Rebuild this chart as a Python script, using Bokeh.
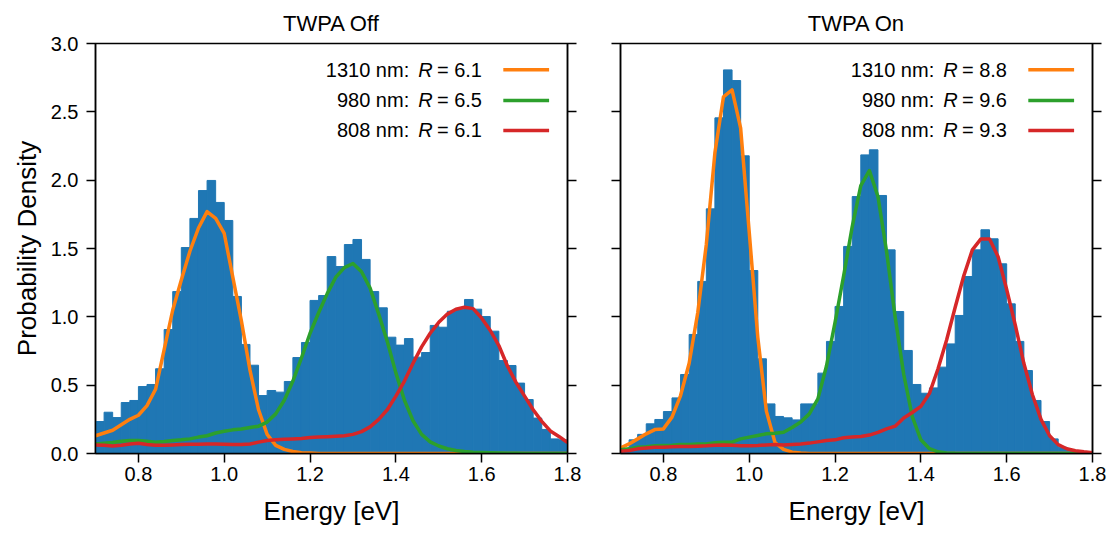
import numpy as np
from bokeh.plotting import figure
from bokeh.layouts import row
from bokeh.models import LinearAxis, Label, Range1d, FixedTicker, CustomJSTickFormatter
from bokeh.embed import file_html
from bokeh.resources import INLINE

# ---------------- data ----------------
BIN_START, BIN_WIDTH, N_BINS = 0.70, 0.02, 55
bin_edges = np.round(BIN_START + BIN_WIDTH * np.arange(N_BINS + 1), 3)
energy = np.round(0.70 + 0.02 * np.arange(56), 2)  # curve sample grid, eV

hist_off = [0.234, 0.302, 0.263, 0.373, 0.388, 0.49, 0.505, 0.62, 0.907, 1.185,
            1.507, 1.72, 1.924, 1.998, 1.837, 1.705, 1.149, 0.798, 0.646, 0.424,
            0.461, 0.449, 0.527, 0.702, 0.812, 1.12, 1.156, 1.441, 1.368, 1.529,
            1.566, 1.42, 1.185, 1.066, 0.851, 0.793, 0.841, 0.705, 0.739, 0.937,
            0.924, 1.041, 1.056, 1.127, 1.056, 1.002, 0.895, 0.68, 0.644, 0.515,
            0.395, 0.259, 0.176, 0.107, 0.10]
hist_on = [0.027, 0.10, 0.14, 0.217, 0.249, 0.307, 0.407, 0.578, 0.871, 1.259,
           1.79, 2.456, 2.807, 2.729, 2.178, 1.339, 0.693, 0.363, 0.271, 0.261,
           0.246, 0.363, 0.363, 0.588, 0.82, 1.076, 1.515, 1.88, 2.185, 2.222,
           1.888, 1.49, 1.039, 0.754, 0.505, 0.441, 0.48, 0.632, 0.802, 1.01,
           1.295, 1.49, 1.637, 1.571, 1.388, 1.095, 0.82, 0.607, 0.388, 0.234,
           0.107, 0.046, 0.022, 0.008, 0.003]

off_1310 = [0.13, 0.15, 0.17, 0.21, 0.25, 0.28, 0.35, 0.47, 0.76, 1.05,
            1.27, 1.48, 1.65, 1.77, 1.72, 1.61, 1.29, 0.97, 0.61, 0.32,
            0.14, 0.06, 0.03, 0.015, 0.006, 0.003] + [0.0] * 30
off_980 = [0.07, 0.075, 0.08, 0.09, 0.095, 0.095, 0.09, 0.083, 0.088, 0.095,
           0.10, 0.107, 0.12, 0.13, 0.15, 0.163, 0.173, 0.18, 0.19, 0.20,
           0.23, 0.29, 0.39, 0.53, 0.70, 0.88, 1.03, 1.17, 1.29, 1.36,
           1.39, 1.33, 1.21, 1.02, 0.82, 0.59, 0.39, 0.24, 0.14, 0.085,
           0.055, 0.035, 0.022, 0.015, 0.01, 0.007, 0.005, 0.003, 0.002, 0.001,
           0.0, 0.0, 0.0, 0.0, 0.0, 0.0]
off_808 = [0.063, 0.06, 0.055, 0.06, 0.07, 0.075, 0.066, 0.06, 0.06, 0.063,
           0.066, 0.068, 0.068, 0.07, 0.07, 0.068, 0.066, 0.066, 0.07, 0.083,
           0.095, 0.10, 0.105, 0.107, 0.11, 0.117, 0.12, 0.123, 0.126, 0.13,
           0.14, 0.16, 0.195, 0.25, 0.32, 0.42, 0.53, 0.66, 0.78, 0.88,
           0.96, 1.02, 1.055, 1.07, 1.06, 0.99, 0.90, 0.79, 0.64, 0.52,
           0.42, 0.32, 0.235, 0.165, 0.125, 0.08]

on_1310 = [0.04, 0.07, 0.107, 0.144, 0.175, 0.18, 0.266, 0.424, 0.66, 1.03,
           1.53, 2.20, 2.61, 2.66, 2.38, 1.62, 0.85, 0.31, 0.08, 0.03,
           0.01, 0.003] + [0.0] * 34
on_980 = [0.027, 0.034, 0.046, 0.05, 0.056, 0.058, 0.06, 0.066, 0.066, 0.07,
          0.07, 0.078, 0.083, 0.083, 0.107, 0.12, 0.132, 0.144, 0.149, 0.156,
          0.19, 0.23, 0.29, 0.40, 0.64, 0.96, 1.30, 1.66, 1.96, 2.07,
          1.88, 1.48, 1.00, 0.58, 0.27, 0.10, 0.035, 0.012, 0.004, 0.001] + [0.0] * 16
on_808 = [0.017, 0.022, 0.034, 0.041, 0.046, 0.046, 0.049, 0.051, 0.051, 0.053,
          0.056, 0.061, 0.063, 0.061, 0.056, 0.056, 0.058, 0.063, 0.066, 0.063,
          0.066, 0.07, 0.076, 0.085, 0.095, 0.10, 0.115, 0.12, 0.125, 0.135,
          0.155, 0.18, 0.20, 0.26, 0.30, 0.345, 0.44, 0.62, 0.83, 1.07,
          1.30, 1.49, 1.57, 1.57, 1.44, 1.20, 0.94, 0.66, 0.43, 0.25,
          0.13, 0.065, 0.035, 0.02, 0.012, 0.006]

wavelengths = ["1310 nm:", "980 nm:", "808 nm:"]
r_off = ["6.1", "6.5", "6.1"]
r_on = ["8.8", "9.6", "9.3"]

x_ticks = [0.8, 1.0, 1.2, 1.4, 1.6, 1.8]
x_tick_labels = ["0.8", "1.0", "1.2", "1.4", "1.6", "1.8"]
y_ticks = [0.0, 0.5, 1.0, 1.5, 2.0, 2.5, 3.0]
y_tick_labels = ["0.0", "0.5", "1.0", "1.5", "2.0", "2.5", "3.0"]

# ---------------- style ----------------
BAR = "#1f77b4"
COLORS = ["#ff7f0e", "#2ca02c", "#d62728"]
FONT = "Liberation Sans"
TICK_FS = "20px"
LEG_FS = "20px"
TITLE_FS = "22px"
LAB_FS = "26px"
X0, X1, Y0, Y1 = 0.7, 1.8, 0.0, 3.0


def fx(f):
    return X0 + f * (X1 - X0)


def fy(f):
    return Y0 + f * (Y1 - Y0)


def style_axis(ax):
    ax.axis_line_width = 1.5
    ax.axis_line_color = "black"
    ax.major_tick_line_width = 1.5
    ax.major_tick_line_color = "black"
    ax.major_tick_out = 9
    ax.major_tick_in = 0
    ax.minor_tick_out = 0
    ax.minor_tick_in = 0
    ax.major_label_text_font = FONT
    ax.major_label_text_font_size = TICK_FS
    ax.major_label_text_color = "black"
    ax.axis_label_text_font = FONT
    ax.axis_label_text_font_size = LAB_FS
    ax.axis_label_text_font_style = "normal"
    ax.axis_label_text_color = "black"


def make_panel(title, hist, curves, rvals, first):
    p = figure(frame_width=472, frame_height=410,
               x_range=Range1d(X0, X1), y_range=Range1d(Y0, Y1),
               output_backend="svg", toolbar_location=None,
               min_border_left=95 if first else 27,
               min_border_right=26 if first else 20,
               min_border_top=43, min_border_bottom=80)
    p.title.text = title
    p.title.align = "center"
    p.title.text_font = FONT
    p.title.text_font_size = TITLE_FS
    p.title.text_font_style = "normal"
    p.title.text_color = "black"
    p.title.standoff = 16
    p.grid.visible = False
    p.outline_line_color = "black"
    p.outline_line_width = 1.5
    p.outline_line_alpha = 1.0
    p.background_fill_color = "white"
    p.border_fill_color = "white"

    p.quad(left=bin_edges[:-1], right=bin_edges[1:], bottom=0, top=hist,
           fill_color=BAR, line_color=BAR, line_width=1.0)

    for vals, c in zip(curves, COLORS):
        p.line(energy, vals, line_color=c, line_width=3.5, line_join="round")

    xa = p.xaxis[0]
    xa.ticker = FixedTicker(ticks=x_ticks)
    xa.major_label_overrides = dict(zip(x_ticks, x_tick_labels))
    xa.axis_label = "Energy [eV]"
    xa.major_label_standoff = 4
    xa.axis_label_standoff = 12
    style_axis(xa)

    ya = p.yaxis[0]
    ya.ticker = FixedTicker(ticks=y_ticks)
    style_axis(ya)
    if first:
        ya.major_label_overrides = dict(zip(y_ticks, y_tick_labels))
        ya.axis_label = "Probability Density"
        ya.major_label_standoff = 8
        ya.axis_label_standoff = 6
    else:
        ya.formatter = CustomJSTickFormatter(code="return ''")
        ya.major_label_standoff = 0

    ra = LinearAxis(ticker=FixedTicker(ticks=y_ticks),
                    formatter=CustomJSTickFormatter(code="return ''"))
    style_axis(ra)
    ra.major_label_standoff = 0
    p.add_layout(ra, "right")

    # legend: label text on the left, line sample on the right
    rows_f = [0.936, 0.861, 0.788]
    for i in range(3):
        yy = fy(rows_f[i])
        p.add_layout(Label(x=fx(0.6646), y=yy, text=wavelengths[i], text_align="right",
                           text_baseline="middle", text_font=FONT, text_font_size=LEG_FS,
                           text_color="black"))
        p.add_layout(Label(x=fx(0.684), y=yy, text="R", text_align="left",
                           text_baseline="middle", text_font=FONT, text_font_size=LEG_FS,
                           text_font_style="italic", text_color="black"))
        p.add_layout(Label(x=fx(0.7233), y=yy, text="= " + rvals[i], text_align="left",
                           text_baseline="middle", text_font=FONT, text_font_size=LEG_FS,
                           text_color="black"))
        p.segment(x0=fx(0.864), y0=yy, x1=fx(0.961), y1=yy,
                  line_color=COLORS[i], line_width=3.5)
    return p


p1 = make_panel("TWPA Off", hist_off, [off_1310, off_980, off_808], r_off, True)
p2 = make_panel("TWPA On", hist_on, [on_1310, on_980, on_808], r_on, False)
layout = row(p1, p2)

open("out.html", "w").write(file_html(layout, INLINE))
